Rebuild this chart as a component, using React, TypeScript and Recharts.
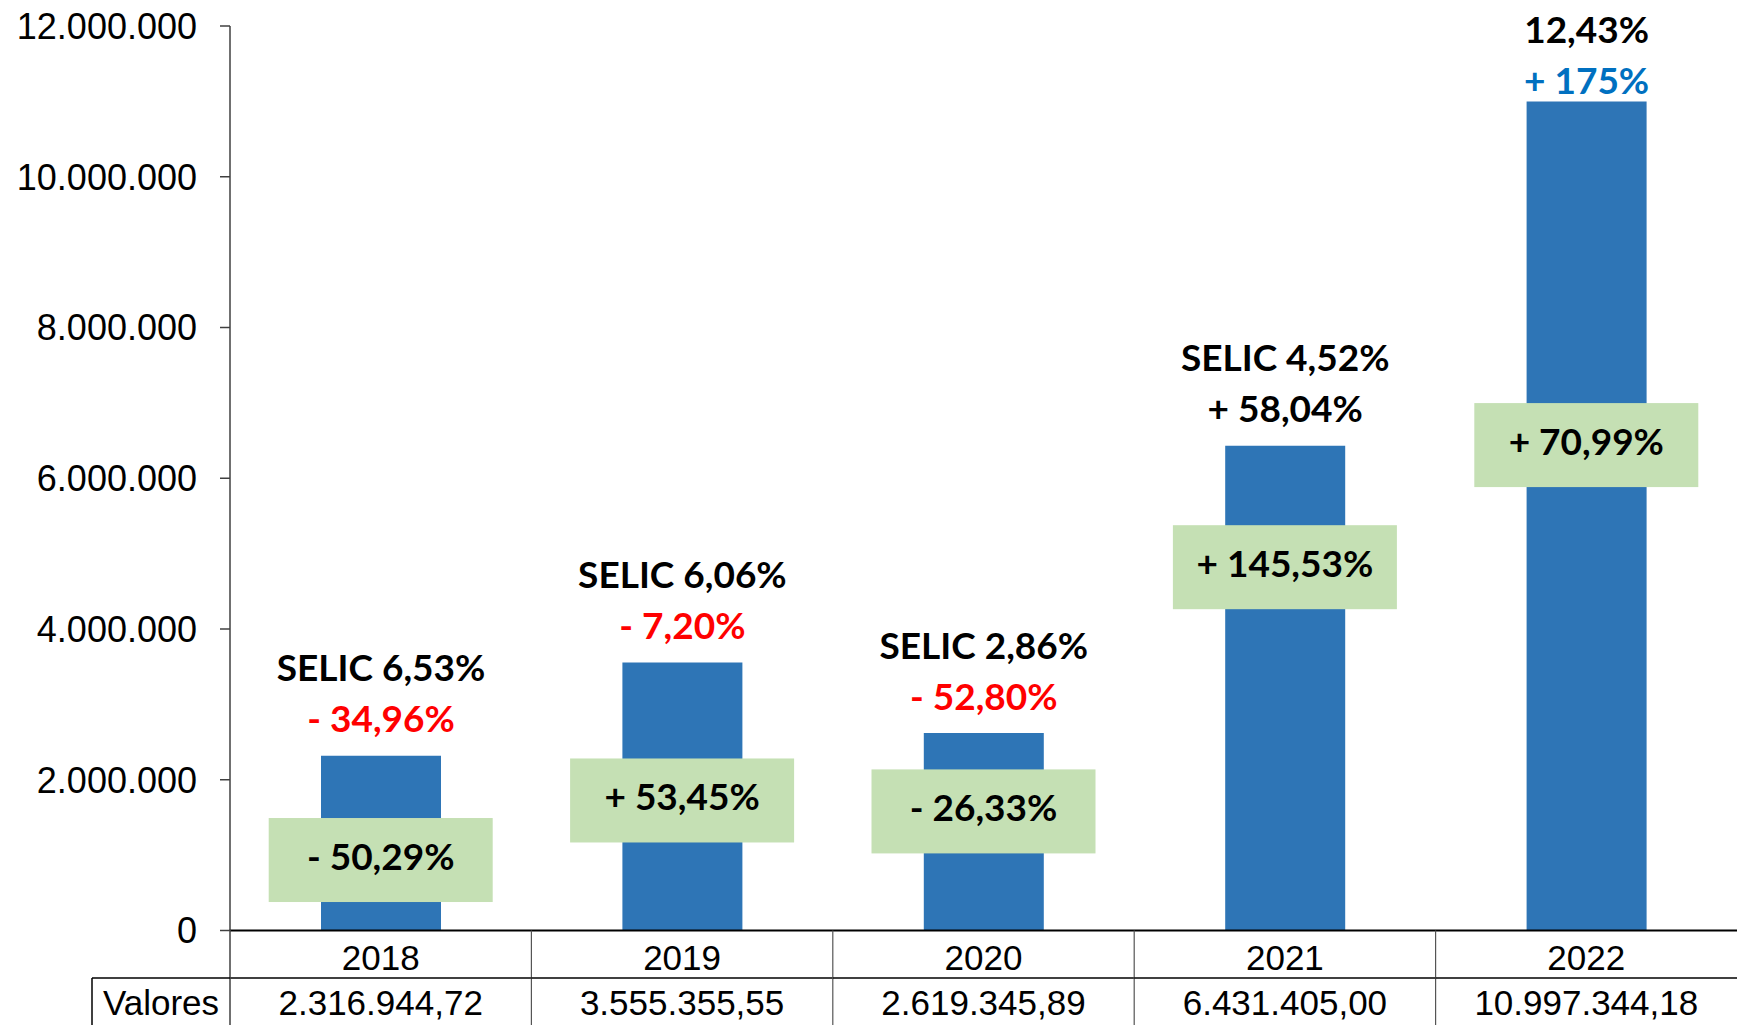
import { ComposedChart, Bar, Line, XAxis, YAxis, LabelList } from 'recharts'

const years = ['2018', '2019', '2020', '2021', '2022']
const valores = [2316944.72, 3555355.55, 2619345.89, 6431405.0, 10997344.18]
const selicLabels = ['SELIC 6,53%', 'SELIC 6,06%', 'SELIC 2,86%', 'SELIC 4,52%', '12,43%']
const selicChange = ['- 34,96%', '- 7,20%', '- 52,80%', '+ 58,04%', '+ 175%']
const growthLabels = ['- 50,29%', '+ 53,45%', '- 26,33%', '+ 145,53%', '+ 70,99%']
// level (R$) at which each green growth box sits
const growthLevel = [935000, 1725000, 1580000, 4820000, 6440000]
const yTicks = [0, 2000000, 4000000, 6000000, 8000000, 10000000, 12000000]

const changeColors = ['#FF0000', '#FF0000', '#FF0000', '#000000', '#0070C0']

const W = 1737
const H = 1025
const LEFT = 230
const BAND = (W - LEFT) / years.length
const TABLE_FONT = '"Liberation Sans", Arial, sans-serif'
const BOLD_FONT = 'Lato, "Open Sans", sans-serif'

const rows = years.map((year, i) => ({ year, valor: valores[i], level: growthLevel[i] }))

const fmtBR = (v: number, dec = 0) => {
  const [int, frac] = v.toFixed(dec).split('.')
  const s = int.replace(/\B(?=(\d{3})+(?!\d))/g, '.')
  return frac ? `${s},${frac}` : s
}

const SelicLabel = (props: any) => {
  const { x, y, width, index } = props
  const cx = x + width / 2
  const y1 = Math.max(y - 89, 28)
  return (
    <g>
      <text x={cx} y={y1} textAnchor="middle" dominantBaseline="central"
        fontFamily={BOLD_FONT} fontWeight={700} fontSize={37} fill="#000">
        {selicLabels[index]}
      </text>
      <text x={cx} y={y1 + 51} textAnchor="middle" dominantBaseline="central"
        fontFamily={BOLD_FONT} fontWeight={700} fontSize={37} fill={changeColors[index]}>
        {selicChange[index]}
      </text>
    </g>
  )
}

const GrowthBox = (props: any) => {
  const { cx, cy, index } = props
  return (
    <g key={`box-${index}`}>
      <rect x={cx - 112} y={cy - 42} width={224} height={84} fill="#C5E0B4" />
      <text x={cx} y={cy - 5} textAnchor="middle" dominantBaseline="central"
        fontFamily={BOLD_FONT} fontWeight={700} fontSize={37} fill="#000">
        {growthLabels[index]}
      </text>
    </g>
  )
}

const TableTick = (props: any) => {
  const { x, y, payload, index } = props
  const half = BAND / 2
  const rowY = y + 47.5
  return (
    <g>
      <text x={x} y={y + 26.5} textAnchor="middle" dominantBaseline="central"
        fontFamily={TABLE_FONT} fontSize={35} fill="#000">
        {payload.value}
      </text>
      <text x={x} y={y + 71.5} textAnchor="middle" dominantBaseline="central"
        fontFamily={TABLE_FONT} fontSize={35} fill="#000">
        {fmtBR(valores[index], 2)}
      </text>
      <line x1={x - half} x2={x + half} y1={rowY} y2={rowY} stroke="#000" strokeWidth={1.5} />
      {index < years.length - 1 && (
        <line x1={x + half} x2={x + half} y1={y} y2={H} stroke="#555" strokeWidth={1.2} />
      )}
      {index === 0 && (
        <g>
          <line x1={x - half} x2={x - half} y1={y - 1} y2={H} stroke="#404040" strokeWidth={1.5} />
          <line x1={92} x2={x - half} y1={rowY} y2={rowY} stroke="#000" strokeWidth={1.5} />
          <line x1={92} x2={92} y1={rowY} y2={H} stroke="#000" strokeWidth={1.5} />
          <text x={161} y={y + 71.5} textAnchor="middle" dominantBaseline="central"
            fontFamily={TABLE_FONT} fontSize={35} fill="#000">
            Valores
          </text>
        </g>
      )}
    </g>
  )
}

export default function App() {
  return (
    <div style={{ position: 'absolute', left: 0, top: 0, width: W, height: H, background: '#fff' }}>
      <ComposedChart width={W} height={H} data={rows} margin={{ top: 26, right: 0, bottom: 0, left: 0 }}>
        <XAxis
          dataKey="year"
          height={94.5}
          interval={0}
          tickLine={false}
          tickSize={0}
          tickMargin={0}
          axisLine={{ stroke: '#000', strokeWidth: 2 }}
          tick={(p: any) => <TableTick {...p} />}
        />
        <YAxis
          width={LEFT}
          domain={[0, 12000000]}
          ticks={yTicks}
          interval={0}
          tickSize={10}
          tickMargin={23}
          axisLine={{ stroke: '#404040', strokeWidth: 1.5 }}
          tickLine={{ stroke: '#404040', strokeWidth: 1.5 }}
          tick={{ fill: '#000', fontSize: 36, fontFamily: TABLE_FONT }}
          tickFormatter={v => fmtBR(v)}
        />
        <Bar dataKey="valor" fill="#2E75B6" barSize={120} isAnimationActive={false}>
          <LabelList dataKey="valor" content={<SelicLabel />} />
        </Bar>
        <Line
          dataKey="level"
          stroke="none"
          dot={(p: any) => <GrowthBox key={`gb-${p.index}`} {...p} />}
          activeDot={false}
          isAnimationActive={false}
        />
      </ComposedChart>
    </div>
  )
}
